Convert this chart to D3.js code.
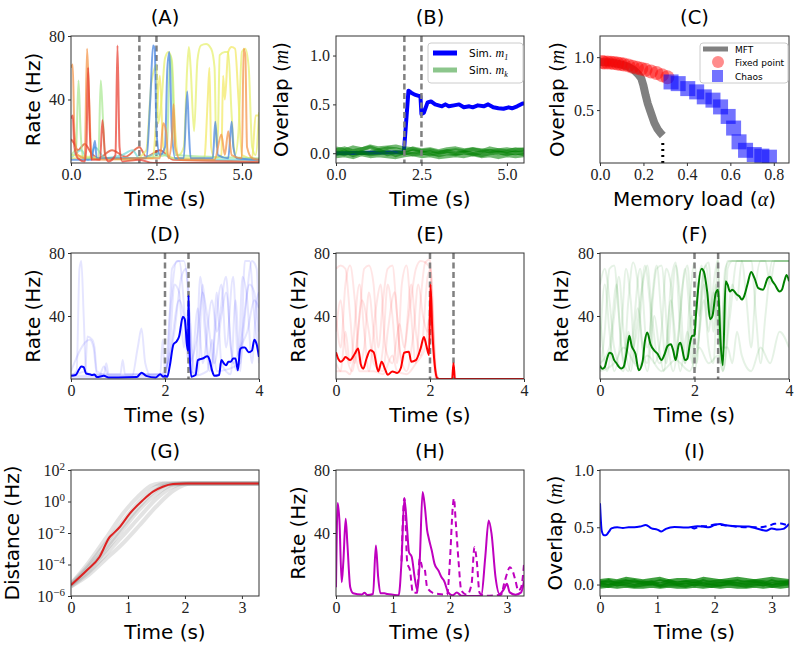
<!DOCTYPE html>
<html>
<head>
<meta charset="utf-8">
<script src="https://cdn.jsdelivr.net/npm/d3@7"></script>
<style>body{margin:0;background:#fff}</style>
</head>
<body>
<script>
// ---------- data ----------
var stimTimes = [2.0, 2.5];

// (A) rates of a few units, [time s, rate Hz]
var aRed    = [[0,28],[0.05,30],[0.1,10],[0.2,3],[0.4,1],[0.45,10],[0.5,60],[0.55,20],[0.6,2],[0.85,2],[0.92,27],[1.0,5],[1.1,1],[1.3,5],[1.36,74],[1.42,10],[1.5,1],[2.0,2],[2.4,0],[5.5,0]];
var aOrange = [[0,60],[0.05,62],[0.1,20],[0.2,5],[0.4,3],[0.47,72],[0.53,40],[0.6,3],[1.0,2],[2.0,3],[2.6,3],[2.7,25],[2.78,20],[2.85,3],[2.95,15],[3.0,37],[3.05,10],[3.2,2],[4.2,2],[4.4,18],[4.5,5],[4.6,20],[4.7,5],[5.0,3],[5.05,72],[5.1,68],[5.15,10],[5.3,3],[5.5,2]];
var aDark   = [[0,15],[0.1,12],[0.2,8],[0.4,12],[0.6,6],[0.8,3],[1.2,8],[1.6,4],[2.0,10],[2.2,4],[2.6,8],[3.0,2],[5.5,1]];
var aYellow = [[0,5],[1.8,2],[2.2,8],[2.35,50],[2.45,60],[2.5,62],[2.55,25],[2.65,40],[2.75,66],[2.85,70],[2.95,65],[3.05,20],[3.15,5],[3.3,10],[3.4,60],[3.45,73],[3.5,60],[3.6,20],[3.7,65],[3.8,74],[3.95,75],[4.1,72],[4.2,60],[4.25,10],[4.3,20],[4.35,68],[4.5,70],[4.6,70],[4.7,30],[4.8,5],[4.9,20],[5.0,70],[5.1,72],[5.2,60],[5.3,10],[5.4,5],[5.5,32]];
var aYellow2= [[0,3],[2.4,3],[2.5,30],[2.6,55],[2.7,10],[3.0,3],[3.9,3],[4.0,40],[4.05,60],[4.1,10],[4.2,3],[4.4,5],[4.45,55],[4.5,40],[4.6,70],[4.7,73],[4.8,72],[4.9,40],[5.0,5],[5.3,3],[5.4,30],[5.5,30]];
var aGreen  = [[0,5],[0.15,10],[0.22,52],[0.28,20],[0.35,3],[0.8,3],[0.87,52],[0.93,30],[1.0,3],[1.5,3],[2.0,3],[2.8,5],[2.9,68],[2.95,60],[3.05,5],[5.5,3]];
var aBlue   = [[0,2],[0.6,2],[0.7,14],[0.75,3],[2.2,3],[2.32,40],[2.4,74],[2.45,72],[2.5,20],[2.6,5],[2.75,10],[2.82,60],[2.88,70],[2.95,20],[3.05,3],[3.3,3],[3.4,45],[3.45,20],[3.5,3],[4.15,3],[4.22,26],[4.3,5],[4.6,3],[4.7,26],[4.75,10],[4.85,3],[5.5,2]];
var aCyan   = [[0,3],[0.3,8],[0.5,2],[0.7,10],[1.0,3],[1.5,5],[1.8,8],[2.0,3],[2.6,6],[3.0,3],[5.5,2]];

// (B) overlaps
var bM1 = [[0,0],[1.98,0.01],[2.0,0.075],[2.12,0.64],[2.2,0.62],[2.3,0.6],[2.44,0.585],[2.47,0.585],[2.5,0.4],[2.57,0.415],[2.68,0.52],[2.78,0.53],[2.9,0.5],[3.0,0.49],[3.1,0.48],[3.2,0.5],[3.3,0.48],[3.45,0.49],[3.6,0.5],[3.74,0.47],[3.9,0.48],[4.0,0.47],[4.15,0.49],[4.32,0.48],[4.45,0.5],[4.6,0.47],[4.75,0.46],[4.9,0.455],[5.05,0.47],[5.15,0.46],[5.3,0.48],[5.46,0.51],[5.5,0.51]];
var bStep = 0.25;
var bMk1 = [0.03,0.05,0.02,0.04,0.06,0.03,0.05,0.04,0.02,0.05,0.03,0.04,0.02,0.04,0.05,0.03,0.04,0.02,0.05,0.03,0.04,0.03,0.04];
var bMk2 = [-0.03,-0.02,-0.04,-0.01,-0.03,-0.02,-0.03,-0.04,-0.02,-0.01,-0.03,-0.02,-0.04,-0.03,-0.02,-0.03,-0.01,-0.03,-0.02,-0.04,-0.02,-0.03,-0.02];
var bMk3 = [0.01,-0.01,0.02,0.0,0.01,0.03,-0.01,0.01,0.0,0.02,0.01,-0.01,0.0,0.02,0.0,0.01,-0.01,0.01,0.02,0.0,0.01,0.0,0.01];
var bMk4 = [0.05,0.03,0.06,0.04,0.07,0.05,0.06,0.07,0.05,0.04,0.02,0.03,0.01,0.02,0.03,0.02,0.04,0.03,0.02,0.03,0.02,0.04,0.03];
var bMk5 = [-0.01,0.02,-0.02,0.01,-0.01,0.0,0.02,-0.02,0.01,-0.01,0.0,0.01,-0.02,0.0,-0.01,0.01,0.0,-0.02,0.0,0.01,-0.01,0.01,-0.01];

// (C) overlap vs memory load
var mftAlpha   = [0,0.05,0.1,0.13,0.155,0.175,0.19,0.2,0.21,0.22,0.23,0.25,0.265,0.28,0.289];
var mftOverlap = [0.955,0.95,0.93,0.91,0.88,0.84,0.8,0.73,0.64,0.56,0.5,0.38,0.32,0.28,0.26];
var criticalLoad = [0.289];
var fpAlpha    = [0.01,0.02,0.035,0.05,0.065,0.08,0.095,0.11,0.13,0.15,0.17,0.19,0.21,0.235,0.26,0.285,0.31];
var fpOverlap  = [0.955,0.95,0.95,0.948,0.945,0.94,0.935,0.93,0.922,0.91,0.9,0.89,0.88,0.865,0.85,0.83,0.81];
var chAlpha    = [0.327,0.36,0.404,0.445,0.48,0.52,0.555,0.59,0.615,0.64,0.67,0.71,0.745,0.78];
var chOverlap  = [0.766,0.75,0.703,0.672,0.625,0.594,0.53,0.44,0.33,0.2,0.12,0.08,0.065,0.055];

// (D) pattern-1 units
var dMain = [[0,2],[0.1,2.5],[0.17,6],[0.22,8],[0.27,7.5],[0.32,3.5],[0.4,3],[0.45,2.5],[0.5,2.8],[0.55,1.2],[0.7,2],[0.8,1],[1.0,1],[1.4,1.2],[1.5,4],[1.6,2],[1.8,1],[1.9,3],[1.96,1.5],[2.0,2],[2.05,1.5],[2.1,8],[2.18,22],[2.25,24],[2.3,27],[2.38,39.5],[2.42,38],[2.47,21],[2.49,18],[2.5,53],[2.52,20],[2.56,1.5],[2.65,2.5],[2.7,12],[2.8,13],[2.9,14.4],[2.95,12],[3.0,5.6],[3.05,2],[3.15,2.5],[3.2,12],[3.25,10],[3.3,8.7],[3.35,11],[3.4,11],[3.45,13],[3.5,13],[3.55,5.6],[3.6,19],[3.65,20],[3.7,20],[3.78,17],[3.85,18],[3.9,25],[3.95,22],[4.0,14]];
var dUnit1 = [[0,2],[0.12,5],[0.18,70],[0.22,75],[0.27,40],[0.32,5],[0.4,3],[1.3,2],[1.42,20],[1.5,32],[1.58,10],[1.7,2],[2.0,2],[2.1,40],[2.25,75],[2.4,75],[2.5,50],[2.55,5],[2.7,3],[2.8,60],[2.9,20],[3.0,5],[3.1,55],[3.2,10],[3.4,3],[3.5,50],[3.6,5],[3.7,75],[3.8,75],[3.9,40],[4.0,10]];
var dUnit2 = [[0,3],[0.3,5],[0.35,27],[0.45,25],[0.5,20],[0.55,5],[0.7,3],[0.75,10],[0.8,3],[1.05,3],[1.1,12],[1.15,3],[1.9,3],[1.95,25],[2.0,5],[2.1,20],[2.2,60],[2.3,55],[2.4,20],[2.5,45],[2.6,10],[2.65,3],[2.75,65],[2.85,30],[2.95,5],[3.2,60],[3.3,20],[3.45,65],[3.55,15],[3.8,60],[3.9,55],[4.0,20]];
var dUnit3 = [[0,5],[0.4,25],[0.48,20],[0.55,3],[1.9,3],[2.05,10],[2.15,70],[2.3,75],[2.45,30],[2.55,3],[2.7,45],[2.8,10],[3.0,50],[3.1,30],[3.3,65],[3.4,20],[3.55,5],[3.65,65],[3.75,50],[3.85,10],[3.95,50],[4.0,55]];
var dUnit4 = [[0,1],[1.9,1],[2.2,30],[2.35,65],[2.45,70],[2.5,55],[2.6,2],[2.9,5],[3.0,25],[3.1,5],[3.6,10],[3.7,40],[3.85,75],[3.95,70],[4.0,30]];
var dUnit5 = [[0,2],[0.6,2],[0.7,8],[0.8,2],[2.0,3],[2.1,15],[2.3,50],[2.4,40],[2.5,10],[2.7,30],[2.8,55],[2.9,40],[3.05,10],[3.2,40],[3.3,55],[3.45,10],[3.6,20],[3.75,30],[3.9,50],[4.0,45]];

// (E)
var eMain = [[0,17],[0.05,12.7],[0.1,11],[0.15,12],[0.2,14],[0.3,12],[0.4,16],[0.47,19.4],[0.53,9],[0.58,6.5],[0.65,13],[0.73,18.3],[0.8,17],[0.9,4.8],[0.97,11],[1.05,5.8],[1.1,2.7],[1.2,4.8],[1.3,3.8],[1.38,7],[1.45,16.7],[1.55,17.3],[1.6,11],[1.7,12],[1.8,19.4],[1.87,26.7],[1.92,21.5],[1.98,15.2],[2.01,60],[2.05,30],[2.1,9],[2.15,0.6],[2.2,0],[2.47,0],[2.5,10],[2.53,0],[4,0]];
var eUnit1 = [[0,70],[0.1,72],[0.2,70],[0.3,40],[0.4,10],[0.5,40],[0.6,70],[0.7,72],[0.8,60],[0.9,20],[1.0,50],[1.1,70],[1.2,72],[1.3,40],[1.4,10],[1.55,40],[1.7,70],[1.8,75],[1.9,74],[2.0,70],[2.05,40],[2.12,5],[2.2,0],[4,0]];
var eUnit2 = [[0,40],[0.1,20],[0.2,60],[0.3,72],[0.4,50],[0.5,10],[0.6,20],[0.7,55],[0.8,30],[0.9,5],[1.0,20],[1.1,60],[1.2,40],[1.3,10],[1.4,60],[1.5,72],[1.6,40],[1.7,10],[1.8,50],[1.9,74],[2.0,76],[2.05,50],[2.12,5],[2.2,0],[4,0]];
var eUnit3 = [[0,10],[0.1,5],[0.2,30],[0.3,10],[0.5,60],[0.6,30],[0.7,5],[0.85,45],[0.95,60],[1.05,20],[1.2,10],[1.35,35],[1.45,20],[1.6,60],[1.7,30],[1.8,15],[1.95,65],[2.02,70],[2.08,30],[2.15,0],[2.48,0],[2.5,8],[2.55,0],[4,0]];
var eUnit4 = [[0,30],[0.1,50],[0.2,20],[0.35,5],[0.45,25],[0.55,50],[0.7,30],[0.8,10],[1.0,5],[1.1,30],[1.25,55],[1.35,20],[1.5,5],[1.65,30],[1.75,60],[1.85,40],[1.95,30],[2.02,55],[2.1,10],[2.18,0],[4,0]];
var eUnit5 = [[0,5],[0.2,5],[0.3,3],[0.4,15],[0.5,5],[0.8,5],[1.0,3],[1.2,15],[1.3,5],[1.5,3],[1.7,10],[1.9,20],[2.0,40],[2.06,20],[2.12,0],[4,0]];

// (F)
var fMain = [[0,8.5],[0.05,6.5],[0.1,7.5],[0.15,13],[0.2,16.7],[0.25,16],[0.3,12],[0.35,10],[0.4,7.7],[0.45,6.7],[0.5,7.7],[0.57,18],[0.62,27.5],[0.67,21],[0.75,16],[0.82,5.6],[0.9,10.8],[0.95,24],[1.0,29.6],[1.07,22],[1.15,18],[1.22,16],[1.3,12],[1.37,16],[1.43,21],[1.5,22],[1.55,18],[1.6,12],[1.67,22],[1.7,23],[1.8,12],[1.85,13],[1.9,22],[1.95,27.5],[2.0,27.5],[2.03,40],[2.15,70],[2.2,68],[2.27,55],[2.33,38],[2.38,40],[2.45,54.6],[2.5,56.7],[2.55,24],[2.6,8.7],[2.66,62],[2.7,60],[2.75,55.6],[2.8,56.7],[2.9,53.5],[2.95,52.5],[3.0,50.4],[3.05,52.5],[3.12,60],[3.2,68],[3.27,64],[3.35,57.7],[3.45,56.7],[3.55,64],[3.6,65],[3.65,62],[3.7,60],[3.8,55.6],[3.85,56.7],[3.9,62],[3.95,66],[4.0,62]];
var fUnit1 = [[0,5],[0.1,30],[0.2,70],[0.3,72],[0.4,40],[0.5,10],[0.6,50],[0.7,74],[0.8,60],[0.9,20],[1.0,10],[1.1,50],[1.2,72],[1.3,40],[1.4,10],[1.5,40],[1.6,72],[1.7,50],[1.8,10],[1.9,50],[2.0,74],[2.1,40],[2.2,70],[2.3,74],[2.4,30],[2.5,75],[2.55,20],[2.65,70],[2.75,75],[4.0,75]];
var fUnit2 = [[0,20],[0.1,60],[0.2,30],[0.3,5],[0.45,30],[0.55,70],[0.65,50],[0.75,10],[0.85,40],[0.95,72],[1.05,50],[1.15,10],[1.3,30],[1.4,70],[1.5,60],[1.6,15],[1.75,60],[1.85,72],[1.95,30],[2.05,10],[2.15,60],[2.25,72],[2.35,40],[2.45,60],[2.55,10],[2.65,30],[2.7,70],[2.8,75],[3.5,75],[3.6,60],[3.7,75],[4,75]];
var fUnit3 = [[0,40],[0.15,5],[0.3,40],[0.4,65],[0.5,30],[0.65,5],[0.8,45],[0.9,20],[1.0,5],[1.15,40],[1.25,20],[1.35,5],[1.5,50],[1.6,25],[1.7,5],[1.85,30],[1.95,10],[2.05,50],[2.15,72],[2.3,20],[2.4,10],[2.5,60],[2.6,5],[2.75,40],[2.9,75],[3.2,75],[3.3,40],[3.4,10],[3.5,40],[3.65,75],[4,75]];
var fUnit4 = [[0,10],[0.2,20],[0.35,60],[0.45,20],[0.6,5],[0.7,30],[0.85,70],[1.0,20],[1.2,70],[1.3,72],[1.45,20],[1.55,5],[1.7,40],[1.8,70],[1.9,40],[2.0,5],[2.1,30],[2.2,60],[2.3,40],[2.45,70],[2.5,76],[2.55,10],[2.6,40],[2.7,75],[3.0,75],[3.1,50],[3.2,20],[3.3,60],[3.4,75],[4,75]];
var fUnit5 = [[0,60],[0.1,70],[0.2,50],[0.3,20],[0.5,5],[0.6,30],[0.7,20],[0.9,60],[1.0,72],[1.1,40],[1.25,10],[1.4,20],[1.5,60],[1.6,74],[1.7,30],[1.8,10],[1.95,40],[2.05,20],[2.2,50],[2.3,30],[2.4,55],[2.55,20],[2.7,20],[2.8,10],[2.9,30],[3.0,15],[3.2,5],[3.4,20],[3.6,10],[3.8,30],[4,20]];
var fUnit6 = [[0,5],[0.3,10],[0.5,20],[0.8,8],[1.0,15],[1.3,5],[1.6,12],[1.9,5],[2.1,20],[2.3,10],[2.5,15],[2.6,5],[2.8,60],[2.9,50],[3.0,75],[4,75]];

// (G) distance between perturbed trajectories, [time s, Hz]
var gTrial1 = [[0,6e-6],[0.3,1.2e-4],[0.6,4e-3],[0.9,1.5e-1],[1.2,2.5],[1.4,10],[1.55,14],[3.3,14]];
var gTrial2 = [[0,5e-6],[0.3,6e-5],[0.6,1e-3],[0.9,2.5e-2],[1.2,0.5],[1.45,4],[1.7,12],[1.85,14],[3.3,14]];
var gTrial3 = [[0,4e-6],[0.3,3e-5],[0.6,4e-4],[0.9,6e-3],[1.2,0.1],[1.5,1.5],[1.8,9],[2.0,14],[3.3,14]];
var gTrial4 = [[0,4e-6],[0.3,2e-5],[0.6,2e-4],[0.9,2e-3],[1.2,3e-2],[1.5,0.5],[1.8,5],[2.1,14],[3.3,14]];
var gTrial5 = [[0,5e-6],[0.3,4e-5],[0.6,7e-4],[0.9,1.5e-2],[1.2,0.3],[1.5,3],[1.75,11],[1.95,14],[3.3,14]];
var gTrial6 = [[0,6e-6],[0.3,8e-5],[0.6,2e-3],[0.9,5e-2],[1.2,1],[1.45,7],[1.65,14],[3.3,14]];
var gMean   = [[0,5e-6],[0.27,4e-5],[0.5,3e-4],[0.68,5.6e-3],[0.71,7.2e-3],[0.86,2.5e-2],[1.03,0.17],[1.26,1.2],[1.44,4.2],[1.61,8.7],[1.79,12.9],[2.02,14],[3.3,14]];

// (H) one unit, original vs perturbed
var hOrig = [[0,5.5],[0.03,59],[0.06,48],[0.1,8.7],[0.13,22.5],[0.17,49],[0.2,33],[0.25,5.5],[0.3,1.7],[0.45,0.9],[0.5,2],[0.55,0.6],[0.65,1.3],[0.7,32],[0.74,12],[0.78,1.7],[0.85,1.7],[0.9,1.3],[1.0,0.8],[1.1,0.4],[1.15,22],[1.2,62],[1.25,41.7],[1.28,28],[1.33,24.7],[1.38,12],[1.43,3.4],[1.47,22.5],[1.52,66],[1.56,56.6],[1.6,41.7],[1.63,36.4],[1.68,29],[1.73,20.4],[1.8,16],[1.85,12],[1.9,9.4],[1.97,2.3],[2.05,0.4],[2.12,2.3],[2.2,0.2],[2.4,0],[2.55,0.2],[2.62,24.7],[2.68,48],[2.73,39.6],[2.8,12],[2.87,1.3],[2.95,4.5],[3.0,7.7],[3.05,2.3],[3.15,0.8],[3.25,2.3],[3.3,9.8]];
var hPert = [[1.15,22],[1.2,62],[1.25,21.5],[1.3,16],[1.35,2],[1.42,2],[1.47,23.6],[1.52,18],[1.55,18],[1.6,5.5],[1.7,2],[1.8,1.3],[1.95,0.8],[2.0,22.5],[2.05,56.6],[2.07,62],[2.1,48],[2.15,22.5],[2.2,3.4],[2.3,0.8],[2.38,7.7],[2.43,31],[2.47,22.5],[2.52,2],[2.6,0.2],[2.9,0.8],[2.95,7.7],[3.0,14],[3.05,18.3],[3.1,16],[3.15,9.8],[3.2,3.4],[3.25,5.5],[3.3,20]];

// (I) overlaps, original vs perturbed
var iOrig = [[0,0.71],[0.03,0.47],[0.07,0.43],[0.1,0.43],[0.15,0.457],[0.2,0.49],[0.3,0.5],[0.4,0.494],[0.5,0.5],[0.6,0.5],[0.7,0.506],[0.8,0.52],[0.9,0.49],[1.0,0.48],[1.07,0.463],[1.15,0.486],[1.3,0.503],[1.5,0.497],[1.7,0.509],[1.8,0.506],[1.9,0.5],[2.0,0.52],[2.1,0.529],[2.2,0.517],[2.4,0.509],[2.6,0.506],[2.8,0.48],[2.9,0.47],[3.0,0.49],[3.1,0.48],[3.2,0.486],[3.3,0.53]];
var iPert = [[1.6,0.5],[1.65,0.49],[1.75,0.509],[1.9,0.51],[2.0,0.525],[2.2,0.515],[2.4,0.505],[2.6,0.5],[2.8,0.5],[2.95,0.514],[3.05,0.53],[3.15,0.534],[3.25,0.52],[3.3,0.51]];
var iStep = 0.15;
var iMk1 = [0.03,0.04,0.03,0.05,0.04,0.03,0.04,0.05,0.03,0.04,0.04,0.03,0.05,0.04,0.03,0.04,0.05,0.04,0.03,0.04,0.05,0.04,0.03];
var iMk2 = [0.0,-0.01,0.01,0.0,-0.01,0.0,0.01,-0.01,0.0,0.0,-0.01,0.01,0.0,-0.01,0.0,0.01,0.0,-0.01,0.0,0.01,-0.01,0.0,0.01];
var iMk3 = [0.02,0.01,0.02,0.03,0.01,0.02,0.01,0.03,0.02,0.01,0.02,0.03,0.01,0.02,0.03,0.02,0.01,0.02,0.03,0.02,0.01,0.02,0.02];
var iMk4 = [-0.02,-0.01,-0.02,-0.01,-0.02,-0.02,-0.01,-0.02,-0.01,-0.02,-0.02,-0.01,-0.02,-0.01,-0.02,-0.01,-0.02,-0.02,-0.01,-0.02,-0.01,-0.02,-0.01];
var iMk5 = [0.01,0.03,0.0,0.02,0.03,0.01,0.02,0.0,0.03,0.01,0.02,0.0,0.03,0.01,0.0,0.02,0.03,0.01,0.02,0.0,0.03,0.01,0.02];

// ---------- drawing ----------
var sans = "'DejaVu Sans', sans-serif", serif = "'Liberation Serif', 'DejaVu Serif', serif";
var svg = d3.select("body").append("svg").attr("width", 800).attr("height", 652);

var cols = [{left: 71, w: 188}, {left: 336, w: 188}, {left: 600, w: 189}];
var rows = [{top: 36, h: 127}, {top: 253, h: 126}, {top: 470, h: 126}];

function panel(id, c, r, o) {
  var L = cols[c].left, T = rows[r].top, w = cols[c].w, h = rows[r].h;
  var g = svg.append("g").attr("transform", "translate(" + L + "," + T + ")");
  var x = d3.scaleLinear().domain(o.xdom).range([0, w]);
  var y = (o.log ? d3.scaleLog() : d3.scaleLinear()).domain(o.ydom).range([h, 0]);
  g.append("clipPath").attr("id", "clip" + id).append("rect").attr("width", w).attr("height", h);
  var plot = g.append("g").attr("clip-path", "url(#clip" + id + ")");

  var xa = g.append("g").attr("transform", "translate(0," + h + ")")
    .call(d3.axisBottom(x).tickValues(o.xt).tickFormat(o.xf).tickSize(3).tickPadding(3));
  var ya = g.append("g")
    .call(d3.axisLeft(y).tickValues(o.yt).tickFormat(o.yf).tickSize(3).tickPadding(3));
  [xa, ya].forEach(function(a) {
    a.attr("font-family", null).attr("font-size", null);
    a.select(".domain").remove();
    a.selectAll("line").attr("stroke", "#333");
    a.selectAll("text").style("font-family", serif).style("font-size", "16px").attr("fill", "#222");
  });
  if (o.log) {
    ya.selectAll(".tick text").each(function(d) {
      var t = d3.select(this), e = Math.round(Math.log10(d));
      t.text("10");
      t.append("tspan").attr("dy", "-0.55em").style("font-size", "11px")
        .text(e < 0 ? "\u2212" + (-e) : String(e));
    });
  }
  g.append("rect").attr("width", w).attr("height", h)
    .attr("fill", "none").attr("stroke", "#333").attr("stroke-width", 1);

  g.append("text").attr("x", w / 2).attr("y", -12).attr("text-anchor", "middle")
    .style("font-family", sans).style("font-size", "19.5px").text(o.title);

  var xl = g.append("text").attr("x", w / 2).attr("y", h + 43).attr("text-anchor", "middle")
    .style("font-family", sans).style("font-size", "20px").text(o.xlabel[0]);
  if (o.xlabel.length > 1) {
    xl.append("tspan").style("font-family", serif).style("font-style", "italic").text(o.xlabel[1]);
    xl.append("tspan").text(o.xlabel[2]);
  }
  var yl = g.append("text").attr("transform", "translate(" + o.yoff + "," + (h / 2) + ") rotate(-90)")
    .attr("text-anchor", "middle").style("font-family", sans).style("font-size", "20px").text(o.ylabel[0]);
  if (o.ylabel.length > 1) {
    yl.append("tspan").style("font-family", serif).style("font-style", "italic").text(o.ylabel[1]);
    yl.append("tspan").text(o.ylabel[2]);
  }
  return {g: g, plot: plot, x: x, y: y, w: w, h: h};
}

function line(p, data, color, width, opacity, dash, curve) {
  var gen = d3.line().x(function(d) { return p.x(d[0]); }).y(function(d) { return p.y(d[1]); })
    .curve(curve || d3.curveMonotoneX);
  p.plot.append("path").datum(data).attr("d", gen)
    .attr("fill", "none").attr("stroke", color).attr("stroke-width", width)
    .attr("stroke-opacity", opacity).attr("stroke-dasharray", dash || null)
    .attr("stroke-linejoin", "round");
}

function stepped(vals, step) { return vals.map(function(v, i) { return [i * step, v]; }); }

function stim(p) {
  p.plot.selectAll(".stim").data(stimTimes).enter().append("line")
    .attr("x1", p.x).attr("x2", p.x).attr("y1", 0).attr("y2", p.h)
    .attr("stroke", "#808080").attr("stroke-width", 2.5).attr("stroke-dasharray", "6,3.5");
}

var f1 = d3.format(".1f"), f0 = d3.format("d");
var rateTicks = [40, 80];

// (A)
var pA = panel("A", 0, 0, {xdom: [0, 5.5], ydom: [0, 80], xt: [0, 2.5, 5], xf: f1, yt: rateTicks, yf: f0,
  title: "(A)", xlabel: ["Time (s)"], ylabel: ["Rate (Hz)"], yoff: -31});
stim(pA);
[[aDark, "#e0401c"], [aCyan, "#70d8d8"], [aYellow2, "#f2e860"], [aYellow, "#e6f06a"], [aGreen, "#a8e890"],
 [aBlue, "#3f7fe0"], [aOrange, "#f49040"], [aRed, "#e8382a"]].forEach(function(s) {
  line(pA, s[0], s[1], 2, 0.7);
});

// (B)
var pB = panel("B", 1, 0, {xdom: [0, 5.5], ydom: [-0.1, 1.2], xt: [0, 2.5, 5], xf: f1, yt: [0, 0.5, 1], yf: f1,
  title: "(B)", xlabel: ["Time (s)"], ylabel: ["Overlap (", "m", ")"], yoff: -48});
line(pB, bM1, "#0000ff", 4, 1, null, d3.curveLinear);
[bMk1, bMk2, bMk3, bMk4, bMk5].forEach(function(v) { line(pB, stepped(v, bStep), "#008000", 4, 0.55, null, d3.curveLinear); });
stim(pB);
var lgB = pB.g.append("g").attr("transform", "translate(" + (pB.w - 96) + ",7)");
lgB.append("rect").attr("width", 95).attr("height", 40).attr("rx", 3)
  .attr("fill", "#fff").attr("fill-opacity", 0.8).attr("stroke", "#ccc");
[["1", "#0000ff", 1], ["k", "#008000", 0.45]].forEach(function(e, i) {
  var yy = 10 + i * 17;
  lgB.append("line").attr("x1", 5).attr("x2", 29).attr("y1", yy).attr("y2", yy)
    .attr("stroke", e[1]).attr("stroke-opacity", e[2]).attr("stroke-width", 5);
  var t = lgB.append("text").attr("x", 41).attr("y", yy + 4).style("font-family", sans).style("font-size", "10.5px").text("Sim. ");
  t.append("tspan").style("font-family", serif).style("font-style", "italic").style("font-size", "12px").text("m");
  t.append("tspan").style("font-family", serif).style("font-style", "italic").style("font-size", "8px").attr("dy", 3).text(e[0]);
});

// (C)
var pC = panel("C", 2, 0, {xdom: [0, 0.87], ydom: [0, 1.2], xt: [0, 0.2, 0.4, 0.6, 0.8], xf: f1, yt: [0.5, 1], yf: f1,
  title: "(C)", xlabel: ["Memory load (", "\u03b1", ")"], ylabel: ["Overlap (", "m", ")"], yoff: -36});
line(pC, mftAlpha.map(function(a, i) { return [a, mftOverlap[i]]; }), "#808080", 8, 1, null, d3.curveLinear);
pC.plot.selectAll(".crit").data(criticalLoad).enter().append("line")
  .attr("x1", pC.x).attr("x2", pC.x).attr("y1", pC.y(0)).attr("y2", pC.y(mftOverlap[mftOverlap.length - 1]) + 4)
  .attr("stroke", "#000").attr("stroke-width", 3).attr("stroke-dasharray", "2,4");
pC.plot.selectAll(".fp").data(fpAlpha).enter().append("circle")
  .attr("cx", pC.x).attr("cy", function(d, i) { return pC.y(fpOverlap[i]); }).attr("r", 7)
  .attr("fill", "#ff0000").attr("fill-opacity", 0.45);
pC.plot.selectAll(".ch").data(chAlpha).enter().append("rect")
  .attr("x", function(d) { return pC.x(d) - 7.5; }).attr("y", function(d, i) { return pC.y(chOverlap[i]) - 7.5; })
  .attr("width", 15).attr("height", 15).attr("fill", "#0000ff").attr("fill-opacity", 0.55);
var lgC = pC.g.append("g").attr("transform", "translate(" + (pC.w - 89) + ",7)");
lgC.append("rect").attr("width", 88).attr("height", 40).attr("rx", 3)
  .attr("fill", "#fff").attr("fill-opacity", 0.8).attr("stroke", "#ccc");
lgC.append("line").attr("x1", 3).attr("x2", 28).attr("y1", 6).attr("y2", 6).attr("stroke", "#808080").attr("stroke-width", 5);
lgC.append("circle").attr("cx", 18).attr("cy", 19).attr("r", 6).attr("fill", "#ff0000").attr("fill-opacity", 0.45);
lgC.append("rect").attr("x", 12).attr("y", 27).attr("width", 11).attr("height", 12).attr("fill", "#0000ff").attr("fill-opacity", 0.55);
["MFT", "Fixed point", "Chaos"].forEach(function(s, i) {
  lgC.append("text").attr("x", 35).attr("y", 9.5 + i * 13.5).style("font-family", sans).style("font-size", "9px").text(s);
});

// (D) (E) (F)
function ratePanel(id, c, faint, main, color) {
  var p = panel(id, c, 1, {xdom: [0, 4], ydom: [0, 80], xt: [0, 2, 4], xf: f0, yt: rateTicks, yf: f0,
    title: "(" + id + ")", xlabel: ["Time (s)"], ylabel: ["Rate (Hz)"], yoff: c === 2 ? -32 : -31});
  faint.forEach(function(d) { line(p, d, color, 2, 0.1); });
  stim(p);
  line(p, main, color, 2, 1);
  return p;
}
ratePanel("D", 0, [dUnit1, dUnit2, dUnit3, dUnit4, dUnit5], dMain, "#0000ff");
ratePanel("E", 1, [eUnit1, eUnit2, eUnit3, eUnit4, eUnit5], eMain, "#ff0000");
ratePanel("F", 2, [fUnit1, fUnit2, fUnit3, fUnit4, fUnit5, fUnit6], fMain, "#008000");

// (G)
var pG = panel("G", 0, 2, {xdom: [0, 3.3], ydom: [1e-6, 100], log: true, xt: [0, 1, 2, 3], xf: f0,
  yt: [1e-6, 1e-4, 1e-2, 1, 100], yf: f0, title: "(G)", xlabel: ["Time (s)"], ylabel: ["Distance (Hz)"], yoff: -52});
[gTrial1, gTrial2, gTrial3, gTrial4, gTrial5, gTrial6].forEach(function(d) { line(pG, d, "#808080", 4, 0.22); });
line(pG, gMean, "#dd2222", 2, 1);

// (H)
var pH = panel("H", 1, 2, {xdom: [0, 3.3], ydom: [0, 80], xt: [0, 1, 2, 3], xf: f0, yt: rateTicks, yf: f0,
  title: "(H)", xlabel: ["Time (s)"], ylabel: ["Rate (Hz)"], yoff: -31});
line(pH, hPert, "#bf00bf", 2, 1, "6,4");
line(pH, hOrig, "#bf00bf", 2, 1);

// (I)
var pI = panel("I", 2, 2, {xdom: [0, 3.3], ydom: [-0.1, 1.0], xt: [0, 1, 2, 3], xf: f0, yt: [0, 0.5, 1], yf: f1,
  title: "(I)", xlabel: ["Time (s)"], ylabel: ["Overlap (", "m", ")"], yoff: -38});
[iMk1, iMk2, iMk3, iMk4, iMk5].forEach(function(v) { line(pI, stepped(v, iStep), "#008000", 4, 0.75, null, d3.curveLinear); });
line(pI, iPert, "#0000ff", 2, 1, "6,4");
line(pI, iOrig, "#0000ff", 2, 1);
</script>
</body>
</html>
